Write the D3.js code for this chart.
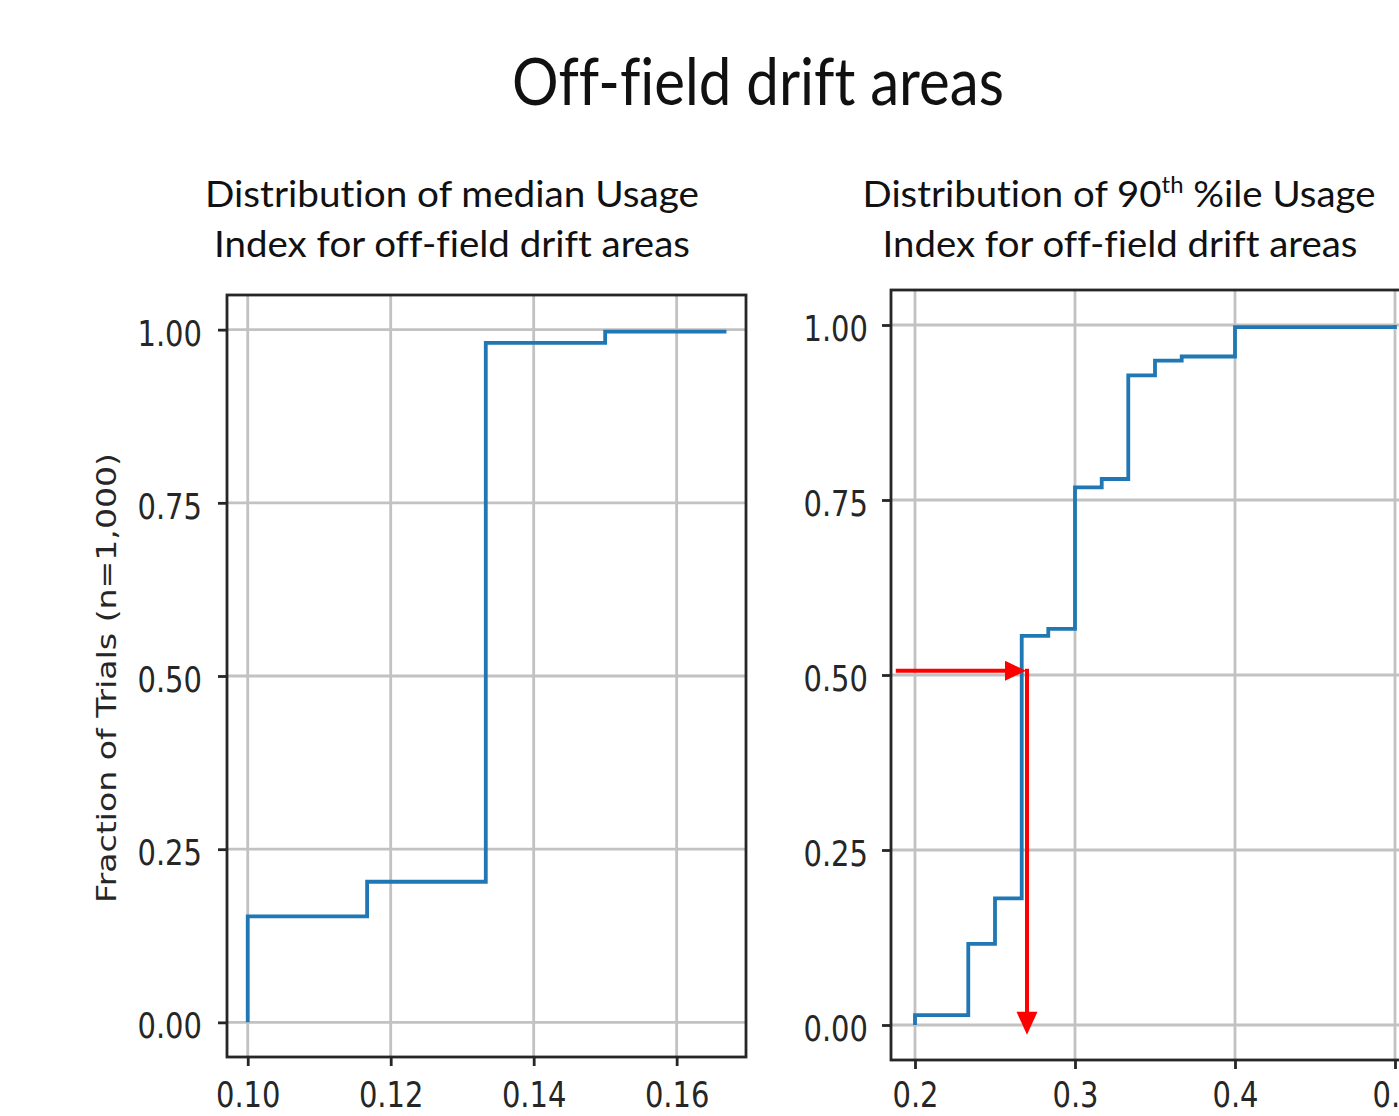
<!DOCTYPE html>
<html>
<head>
<meta charset="utf-8">
<script src="https://cdn.jsdelivr.net/npm/d3@7"></script>
<style>
  body { margin: 0; background: #fff; }
  svg { display: block; }
  text { white-space: pre; font-variant-ligatures: none; }
</style>
</head>
<body>
<svg id="chart" width="1399" height="1116"></svg>
<script>

// left panel: median usage index (ECDF, step after)
var medianX = [0.1, 0.1, 0.1167, 0.1333, 0.15, 0.1667];
var medianY = [0, 0.153, 0.203, 0.981, 0.997, 1.0];

// right panel: 90th percentile usage index
var p90X = [0.2, 0.2, 0.2333, 0.25, 0.2667, 0.2833, 0.3, 0.3167, 0.3333, 0.35, 0.3667, 0.4, 0.5];
var p90Y = [0, 0.014, 0.116, 0.181, 0.556, 0.566, 0.768, 0.780, 0.928, 0.949, 0.955, 0.997, 1.0];

var medianTicksX = [0.10, 0.12, 0.14, 0.16];
var p90TicksX = [0.2, 0.3, 0.4, 0.5];
var fracTicksY = [0, 0.25, 0.5, 0.75, 1.0];

// red annotation arrows on the right panel (data units)
var arrowStartX = 0.188;
var arrowLevel = 0.506;
var arrowReadX = 0.27;
var arrowEndY = -0.014;

var svg = d3.select('#chart');

var tickFont = '"DejaVu Sans", sans-serif';
var titleFont = 'Lato, "Open Sans", sans-serif';
var ink = '#262626';

function fitText(cx, y, size, width, parts) {
    var t = svg.append('text')
        .attr('text-anchor', 'middle')
        .attr('x', 0).attr('y', 0)
        .style('font-family', titleFont)
        .style('font-size', size + 'px')
        .attr('fill', '#111');
    parts.forEach(function (p) {
        var ts = t.append('tspan').text(p.text);
        if (p.sup) {
            ts.style('font-size', Math.round(size * 0.62) + 'px').attr('dy', -size * 0.38);
        } else if (p.after) {
            ts.attr('dy', size * 0.38);
        }
    });
    var w = t.node().getBBox().width;
    t.attr('transform', 'translate(' + cx + ',' + y + ') scale(' + (width / w) + ',1)');
    return t;
}

function panel(cfg) {
    var x = d3.scaleLinear().domain(cfg.xDomain).range([cfg.left, cfg.right]);
    var y = d3.scaleLinear().domain([-0.05, 1.05]).range([cfg.bottom, cfg.top]);
    var g = svg.append('g');

    // grid
    g.selectAll('.gx').data(cfg.xTicks).enter().append('line')
        .attr('x1', function (d) { return x(d); })
        .attr('x2', function (d) { return x(d); })
        .attr('y1', cfg.top).attr('y2', cfg.bottom)
        .attr('stroke', '#c2c2c2').attr('stroke-width', 2.8);
    g.selectAll('.gy').data(fracTicksY).enter().append('line')
        .attr('y1', function (d) { return y(d); })
        .attr('y2', function (d) { return y(d); })
        .attr('x1', cfg.left).attr('x2', cfg.right)
        .attr('stroke', '#c2c2c2').attr('stroke-width', 2.8);

    // ecdf line
    var line = d3.line()
        .x(function (d) { return x(d[0]); })
        .y(function (d) { return y(d[1]); })
        .curve(d3.curveStepAfter);
    g.append('path')
        .datum(d3.zip(cfg.xs, cfg.ys))
        .attr('d', line)
        .attr('fill', 'none')
        .attr('stroke', '#1f77b4')
        .attr('stroke-width', 3.8);

    // frame
    g.append('rect')
        .attr('x', cfg.left).attr('y', cfg.top)
        .attr('width', cfg.right - cfg.left).attr('height', cfg.bottom - cfg.top)
        .attr('fill', 'none').attr('stroke', ink).attr('stroke-width', 2.8);

    // axes
    g.append('g')
        .attr('transform', 'translate(0,' + cfg.bottom + ')')
        .call(d3.axisBottom(x).tickValues(cfg.xTicks).tickFormat(d3.format(cfg.xFmt)).tickSize(9))
        .call(function (a) { a.select('.domain').remove(); })
        .call(function (a) { a.selectAll('line').attr('stroke', ink).attr('stroke-width', 2.8); })
        .call(function (a) {
            a.selectAll('text')
                .attr('y', 0).attr('dy', null)
                .attr('transform', 'translate(0,' + cfg.labelDrop + ') scale(1,1.24)')
                .style('font-family', tickFont).style('font-size', '29px')
                .attr('fill', ink);
        });

    g.append('g')
        .attr('transform', 'translate(' + cfg.left + ',0)')
        .call(d3.axisLeft(y).tickValues(fracTicksY).tickFormat(d3.format('.2f')).tickSize(9))
        .call(function (a) { a.select('.domain').remove(); })
        .call(function (a) { a.selectAll('line').attr('stroke', ink).attr('stroke-width', 2.8); })
        .call(function (a) {
            a.selectAll('text')
                .attr('x', cfg.labelGap).attr('y', 0).attr('dy', null)
                .attr('transform', 'translate(0,15.5) scale(1,1.25)')
                .style('font-family', tickFont).style('font-size', '29px')
                .attr('fill', ink);
        });

    return {x: x, y: y, g: g};
}

var left = panel({
    left: 227, right: 746, top: 295, bottom: 1057,
    xDomain: [0.0971, 0.1697], xTicks: medianTicksX, xFmt: '.2f',
    xs: medianX, ys: medianY, labelGap: -25, labelDrop: 49.5
});

var right = panel({
    left: 891, right: 1419, top: 290, bottom: 1060,
    xDomain: [0.185, 0.515], xTicks: p90TicksX, xFmt: '.1f',
    xs: p90X, ys: p90Y, labelGap: -23, labelDrop: 46.5
});

// annotation arrows
var red = '#ff0000';
var ax0 = right.x(arrowStartX), ay = right.y(arrowLevel);
var ax1 = right.x(arrowReadX), ay1 = right.y(arrowEndY);
right.g.append('line')
    .attr('x1', ax0).attr('y1', ay).attr('x2', ax1 - 18).attr('y2', ay)
    .attr('stroke', red).attr('stroke-width', 4);
right.g.append('path')
    .attr('d', 'M' + (ax1 - 1) + ',' + ay + 'L' + (ax1 - 22) + ',' + (ay - 10) + 'L' + (ax1 - 22) + ',' + (ay + 10) + 'Z')
    .attr('fill', red);
right.g.append('line')
    .attr('x1', ax1).attr('y1', ay - 2).attr('x2', ax1).attr('y2', ay1 - 18)
    .attr('stroke', red).attr('stroke-width', 4);
right.g.append('path')
    .attr('d', 'M' + ax1 + ',' + ay1 + 'L' + (ax1 - 10.5) + ',' + (ay1 - 23) + 'L' + (ax1 + 10.5) + ',' + (ay1 - 23) + 'Z')
    .attr('fill', red);

// y axis label
svg.append('text')
    .attr('transform', 'translate(116,678) rotate(-90)')
    .attr('text-anchor', 'middle')
    .attr('textLength', 450)
    .attr('lengthAdjust', 'spacingAndGlyphs')
    .style('font-family', tickFont).style('font-size', '27px')
    .attr('fill', ink)
    .text('Fraction of Trials (n=1,000)');

// titles
fitText(758, 105, 66, 492, [{text: 'Off-field drift areas'}]);
fitText(452, 207, 37, 494, [{text: 'Distribution of median Usage'}]);
fitText(452, 257, 37, 476, [{text: 'Index for off-field drift areas'}]);
fitText(1119, 207, 37, 513, [{text: 'Distribution of 90'}, {text: 'th', sup: true}, {text: ' %ile Usage', after: true}]);
fitText(1120, 257, 37, 475, [{text: 'Index for off-field drift areas'}]);

</script>
</body>
</html>
